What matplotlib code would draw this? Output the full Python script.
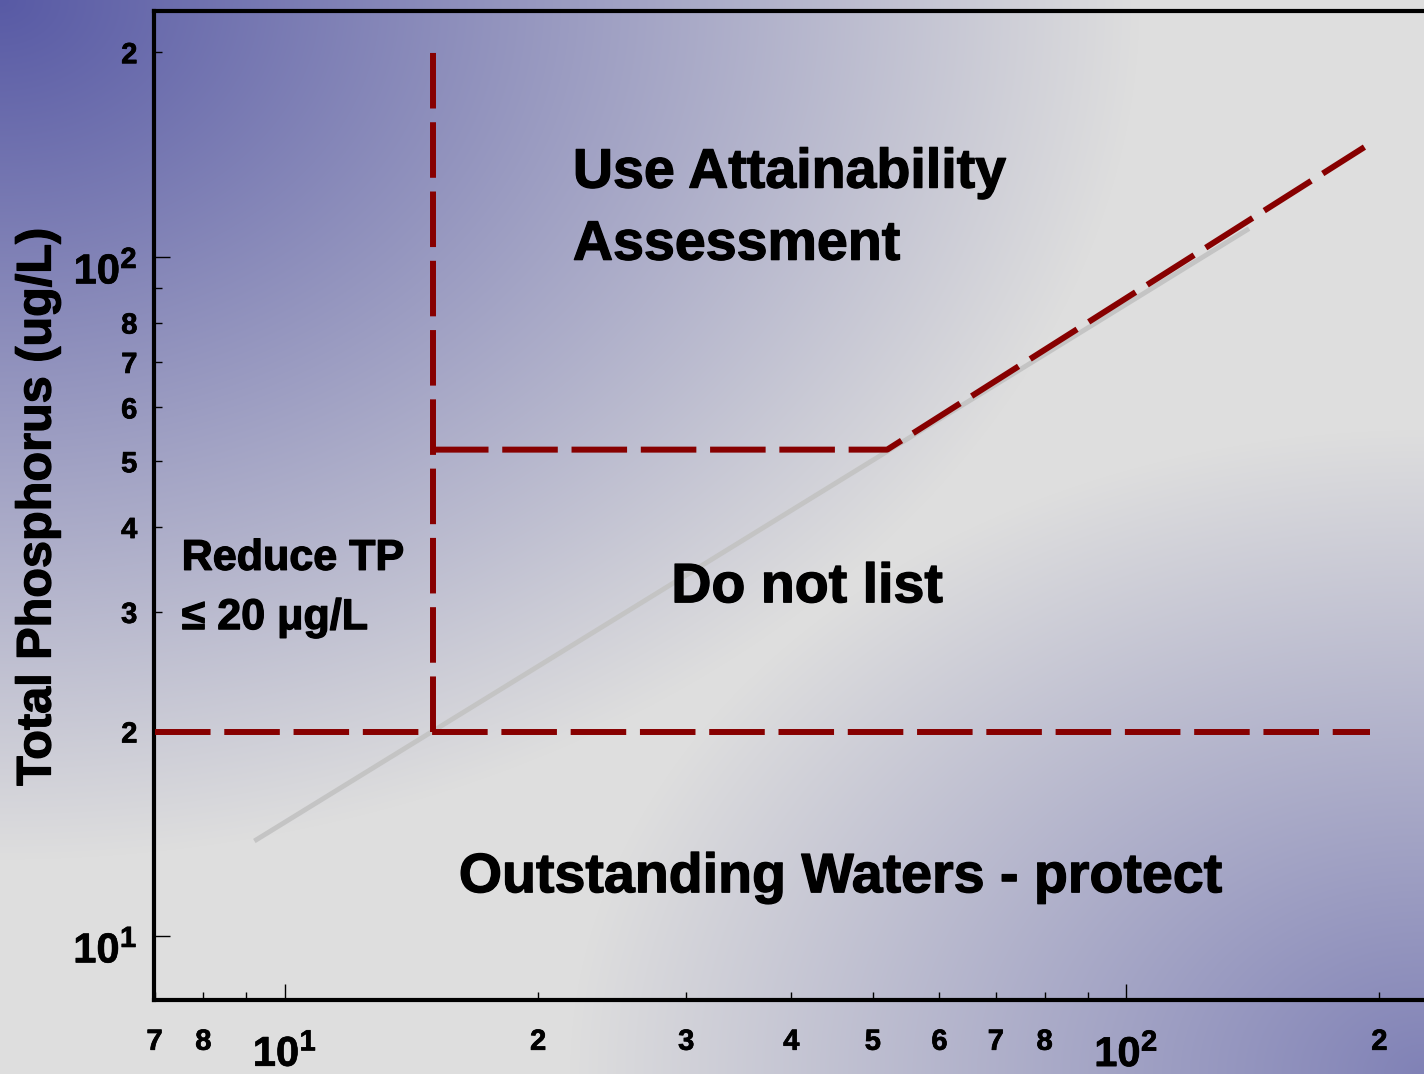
import numpy as np
import matplotlib
matplotlib.use("Agg")
import matplotlib.pyplot as plt
import matplotlib.transforms as mtransforms
import matplotlib.patheffects as pe

plt.rcParams['font.family'] = ['Liberation Sans', 'DejaVu Sans']
plt.rcParams['font.weight'] = 'bold'
plt.rcParams['mathtext.fontset'] = 'custom'
plt.rcParams['mathtext.rm'] = 'Liberation Sans:bold'
plt.rcParams['mathtext.it'] = 'Liberation Sans:bold'
plt.rcParams['mathtext.bf'] = 'Liberation Sans:bold'

# data
gray_x = [9.2, 140]
gray_y = [13.8, 110]

low_x = [7, 195]          # 20 ug/L criterion line
low_y = [20, 20]
vert_x = [15, 15]         # chlorophyll threshold line
vert_y = [20, 200]
upper_x = [15, 52, 192]   # attainability boundary
upper_y = [52, 52, 145]

x_major = [10, 100]
x_major_labels = [r'$10^{1}$', r'$10^{2}$']
x_minor = [7, 8, 9, 20, 30, 40, 50, 60, 70, 80, 90, 200]
x_minor_labels = ['7', '8', '', '2', '3', '4', '5', '6', '7', '8', '', '2']
y_major = [10, 100]
y_major_labels = [r'$10^{1}$', r'$10^{2}$']
y_minor = [20, 30, 40, 50, 60, 70, 80, 90, 200]
y_minor_labels = ['2', '3', '4', '5', '6', '7', '8', '', '2']

W, H = 1424, 1074
fig = plt.figure(figsize=(W / 100, H / 100), dpi=100)

# background gradient (purple corners, light grey middle)
yy, xx = np.mgrid[0:H, 0:W]
u = xx / W
v = yy / H
f1 = np.clip(1 - np.hypot(u, v) / 0.8, 0, 1)
f2 = 0.7 * np.clip(1 - np.hypot(1 - u, 1 - v) / 0.6, 0, 1)
f = 1 - (1 - f1) * (1 - f2)
grey = np.array([222, 222, 222]) / 255
purple = np.array([88, 90, 165]) / 255
img = grey * (1 - f[..., None]) + purple * f[..., None]
bg = fig.add_axes([0, 0, 1, 1], zorder=0)
bg.imshow(img, aspect='auto', interpolation='bilinear')
bg.axis('off')

ax = fig.add_axes([154 / W, 1 - 1000 / H, 1 - 154 / W, (1000 - 11) / H], zorder=1)
ax.set_facecolor('none')
ax.set_xscale('log')
ax.set_yscale('log')
ax.set_xlim(6.99, 226)
ax.set_ylim(8.05, 230)

red = '#870000'
ax.plot(gray_x, gray_y, color='#c4c4c4', lw=3.5, solid_capstyle='butt', zorder=2)
for xs, ys in [(low_x, low_y), (vert_x, vert_y), (upper_x, upper_y)]:
    ax.plot(xs, ys, color=red, lw=4.3, dashes=(9.3, 2.3), zorder=3)

ax.set_xticks(x_major, labels=x_major_labels)
ax.set_xticks(x_minor, labels=x_minor_labels, minor=True)
ax.set_yticks(y_major, labels=y_major_labels)
ax.set_yticks(y_minor, labels=y_minor_labels, minor=True)

ax.tick_params(which='both', direction='in', width=1, color='black')
ax.tick_params(which='major', length=11.5, labelsize=30)
ax.tick_params(which='minor', length=6, labelsize=21)
ax.tick_params(axis='x', which='minor', pad=20)
ax.tick_params(axis='x', which='major', pad=25)
ax.tick_params(axis='y', which='both', pad=12)

heavy = [pe.withStroke(linewidth=0.9, foreground='black')]
light = [pe.withStroke(linewidth=0.5, foreground='black')]
shift_down = mtransforms.ScaledTranslation(0, -11 / 100, fig.dpi_scale_trans)
for lab in ax.get_yticklabels():
    lab.set_transform(lab.get_transform() + shift_down)
for lab in ax.get_xticklabels(which='both') + ax.get_yticklabels(which='both'):
    lab.set_fontweight('bold')
    lab.set_path_effects(light)

ax.spines['right'].set_visible(False)
for s in ['left', 'bottom', 'top']:
    ax.spines[s].set_linewidth(3)

fig.text(38 / W, 1 - 507 / H, 'Total Phosphorus (ug/L)', rotation=90,
         ha='center', va='center', fontsize=35, fontweight='bold',
         path_effects=heavy)

# region labels
big = dict(fontsize=40, fontweight='bold', va='baseline', path_effects=heavy)
ax.text(22.0, 126.4, 'Use Attainability', **big)
ax.text(22.0, 99.0, 'Assessment', **big)
ax.text(28.8, 31.0, 'Do not list', **big)
ax.text(16.1, 11.6, 'Outstanding Waters - protect', **big)
small = dict(fontsize=31, fontweight='bold', va='baseline', path_effects=heavy)
ax.text(7.54, 34.6, 'Reduce TP', **small)
ax.text(7.54, 28.3, '\u2264 20 \u03bcg/L', **small)

fig.savefig('out.png', dpi=100)
